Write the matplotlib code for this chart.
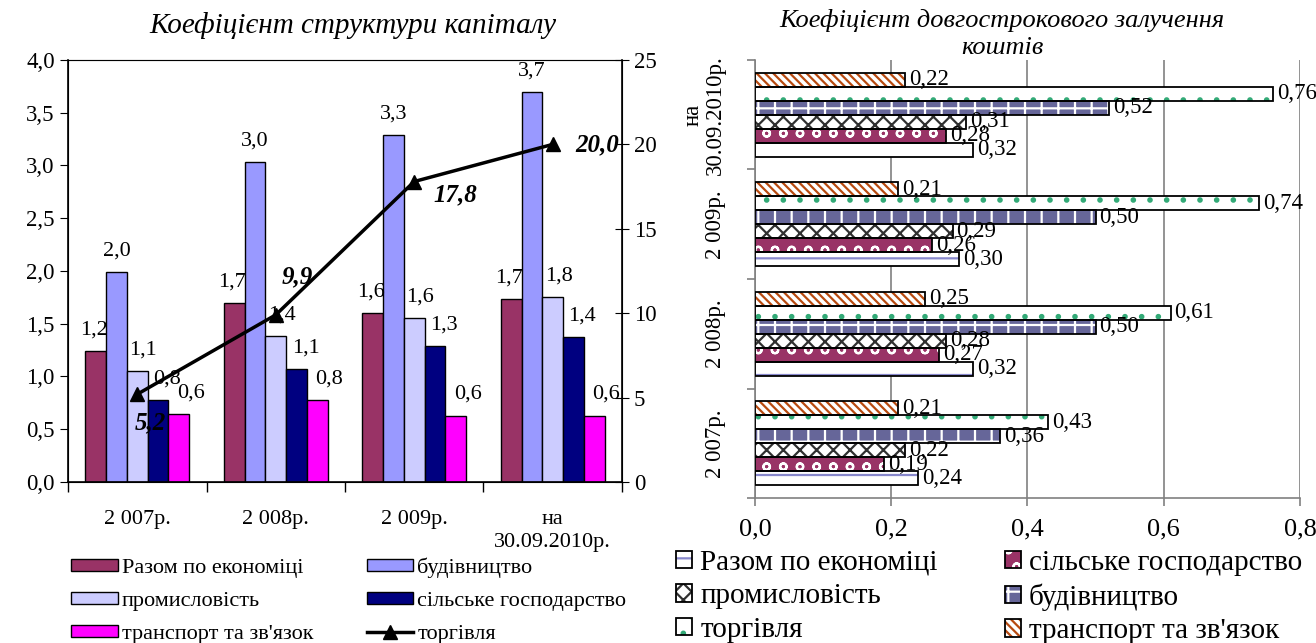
import numpy as np
import matplotlib
matplotlib.use('Agg')
import matplotlib.pyplot as plt
from matplotlib.patches import Patch
from matplotlib.ticker import FuncFormatter

plt.rcParams['font.family'] = ['Liberation Serif', 'DejaVu Serif']
plt.rcParams['hatch.linewidth'] = 1.6

# --- ліва діаграма: коефіцієнт структури капіталу ---
years = ['2 007р.', '2 008р.', '2 009р.', 'на\n30.09.2010р.']
razom = [1.24, 1.70, 1.60, 1.73]
budivn = [1.99, 3.03, 3.29, 3.70]
promysl = [1.05, 1.38, 1.55, 1.75]
silske = [0.78, 1.07, 1.29, 1.37]
transp = [0.64, 0.78, 0.63, 0.63]
torgivlya = [5.2, 9.9, 17.8, 20.0]

# --- права діаграма: коефіцієнт довгострокового залучення коштів ---
years_h = ['2 007р.', '2 008р.', '2 009р.', 'на\n30.09.2010р.']
h_razom = [0.24, 0.32, 0.30, 0.32]
h_silske = [0.19, 0.27, 0.26, 0.28]
h_promysl = [0.22, 0.28, 0.29, 0.31]
h_budivn = [0.36, 0.50, 0.50, 0.52]
h_torg = [0.43, 0.61, 0.74, 0.76]
h_transp = [0.21, 0.25, 0.21, 0.22]

comma = lambda v, p: f'{v:.1f}'.replace('.', ',')

fig = plt.figure(figsize=(13.16, 6.43), dpi=100)

ax = fig.add_axes([0.0517, 0.2504, 0.4209, 0.6563])
x = np.arange(len(years))
w = 0.15
series = [(razom, '#993366', 'Разом по економіці', -2),
          (budivn, '#9999FF', 'будівництво', 0),
          (promysl, '#CCCCFF', 'промисловість', 6),
          (silske, '#000080', 'сільське господарство', 9),
          (transp, '#FF00FF', "транспорт та зв'язок", 12)]
bar_handles = []
for i, (vals, col, name, dx) in enumerate(series):
    pos = x + (i - 2) * w
    b = ax.bar(pos, vals, w, color=col, edgecolor='black', linewidth=1.0,
               label=name, zorder=2)
    bar_handles.append(b)
    for px, v in zip(pos, vals):
        ax.annotate(comma(v, None), (px, v), xytext=(dx, 21),
                    textcoords='offset pixels', ha='center', va='center',
                    fontsize=16, zorder=5)

ax.set_xlim(-0.5, 3.5)
ax.set_ylim(0, 4.0)
ax.set_yticks(np.arange(0, 4.01, 0.5))
ax.yaxis.set_major_formatter(FuncFormatter(comma))
ax.set_xticks(np.arange(-0.5, 3.6, 1.0))
ax.set_xticklabels([])
ax.set_xticks(x, minor=True)
ax.set_xticklabels(years, minor=True, linespacing=1.3)
ax.tick_params(axis='x', which='major', direction='out', length=7, width=1)
ax.tick_params(axis='x', which='minor', length=0, pad=20, labelsize=16)
ax.tick_params(axis='y', direction='out', length=6, labelsize=16.5)
ax.spines['top'].set_color('#808080')
for s in ['left', 'bottom', 'right']:
    ax.spines[s].set_linewidth(1.2)

ax2 = ax.twinx()
ax2.set_ylim(0, 25)
ax2.set_yticks(range(0, 26, 5))
ax2.tick_params(axis='y', direction='inout', length=10, labelsize=16.5)
line, = ax2.plot(x, torgivlya, color='black', lw=2.5, marker='^',
                 markersize=10, zorder=6, label='торгівля')
offsets = [(13, -29), (21, 38), (41, -13), (44, 0)]
for xi, v, (dx, dy) in zip(x, torgivlya, offsets):
    ax2.annotate(comma(v, None), (xi, v), xytext=(dx, dy),
                 textcoords='offset pixels', ha='center', va='center',
                 fontsize=18, fontweight='bold', fontstyle='italic')

fig.text(0.268, 0.961, 'Коефіцієнт структури капіталу', ha='center',
         va='center', fontsize=21, fontstyle='italic')

handles = [bar_handles[0], bar_handles[2], bar_handles[4],
           bar_handles[1], bar_handles[3], line]
labels = ['Разом по економіці', 'промисловість', "транспорт та зв'язок",
          'будівництво', 'сільське господарство', 'торгівля']
fig.legend(handles, labels, ncol=2, loc='upper left',
           bbox_to_anchor=(0.054, 0.133), frameon=False,
           fontsize=16, handlelength=2.1, handleheight=0.5,
           handletextpad=0.18, columnspacing=2.4, labelspacing=0.62,
           borderaxespad=0, borderpad=0)

# --- горизонтальні стовпці з візерунками ---
axh = fig.add_axes([0.5737, 0.2255, 0.4141, 0.6812])
yh = np.arange(len(years_h))
hb = 0.128
h_series = [(h_razom, 'white', '#8888CC', '-', 'Разом по економіці'),
            (h_silske, '#993366', 'white', 'o', 'сільське господарство'),
            (h_promysl, 'white', '#303030', 'xx', 'промисловість'),
            (h_budivn, '#666699', 'white', '+', 'будівництво'),
            (h_torg, 'white', '#33AA77', '.', 'торгівля'),
            (h_transp, 'white', '#B84A10', '\\\\\\\\', "транспорт та зв'язок")]
h_handles = {}
for i, (vals, face, hcol, hatch, name) in enumerate(h_series):
    pos = yh + (i - 2.5) * hb
    axh.barh(pos, vals, hb, color=face, edgecolor=hcol, hatch=hatch,
             linewidth=0, zorder=2)
    axh.barh(pos, vals, hb, fill=False, edgecolor='black', linewidth=1.3,
             zorder=3)
    for py, v in zip(pos, vals):
        axh.annotate(f'{v:.2f}'.replace('.', ','), (v, py), xytext=(4, 0),
                     textcoords='offset pixels', ha='left', va='center',
                     fontsize=16.5, zorder=5)
    h_handles[name] = (Patch(facecolor=face, edgecolor=hcol, hatch=hatch,
                             linewidth=0),
                       Patch(fill=False, edgecolor='black', linewidth=1.3))

axh.set_xlim(0, 0.8)
axh.set_ylim(-0.5, 3.5)
axh.set_xticks(np.arange(0, 0.81, 0.2))
axh.xaxis.set_major_formatter(FuncFormatter(comma))
axh.grid(axis='x', color='#808080', lw=1.2, zorder=0)
axh.set_yticks(np.arange(-0.5, 3.6, 1.0))
axh.set_yticklabels([])
axh.set_yticks(yh, minor=True)
axh.set_yticklabels(years_h, minor=True, rotation=90, va='center',
                    ha='right', multialignment='center', linespacing=1.1)
axh.tick_params(axis='y', which='minor', length=0, pad=21, labelsize=16.5)
axh.tick_params(axis='y', which='major', direction='out', length=6,
                color='#808080', width=1.2)
axh.tick_params(axis='x', direction='out', length=6, pad=9, labelsize=19,
                color='#808080', width=1.2)
axh.spines['top'].set_visible(False)
axh.spines['right'].set_visible(False)
axh.spines['left'].set_color('#808080')
axh.spines['bottom'].set_color('#808080')
axh.spines['left'].set_linewidth(1.2)
axh.spines['bottom'].set_linewidth(1.2)

fig.text(0.761, 0.968, 'Коефіцієнт довгострокового залучення', ha='center',
         va='center', fontsize=19, fontstyle='italic')
fig.text(0.762, 0.926, 'коштів', ha='center', va='center', fontsize=19,
         fontstyle='italic')

order = ['Разом по економіці', 'промисловість', 'торгівля',
         'сільське господарство', 'будівництво', "транспорт та зв'язок"]
fig.legend([h_handles[n] for n in order], order, ncol=2, loc='upper left',
           bbox_to_anchor=(0.5137, 0.145), frameon=False, fontsize=21,
           handlelength=0.55, handleheight=0.55, handletextpad=0.28,
           columnspacing=2.3, labelspacing=0.26, borderaxespad=0,
           borderpad=0)

fig.savefig('out.png', dpi=100)
